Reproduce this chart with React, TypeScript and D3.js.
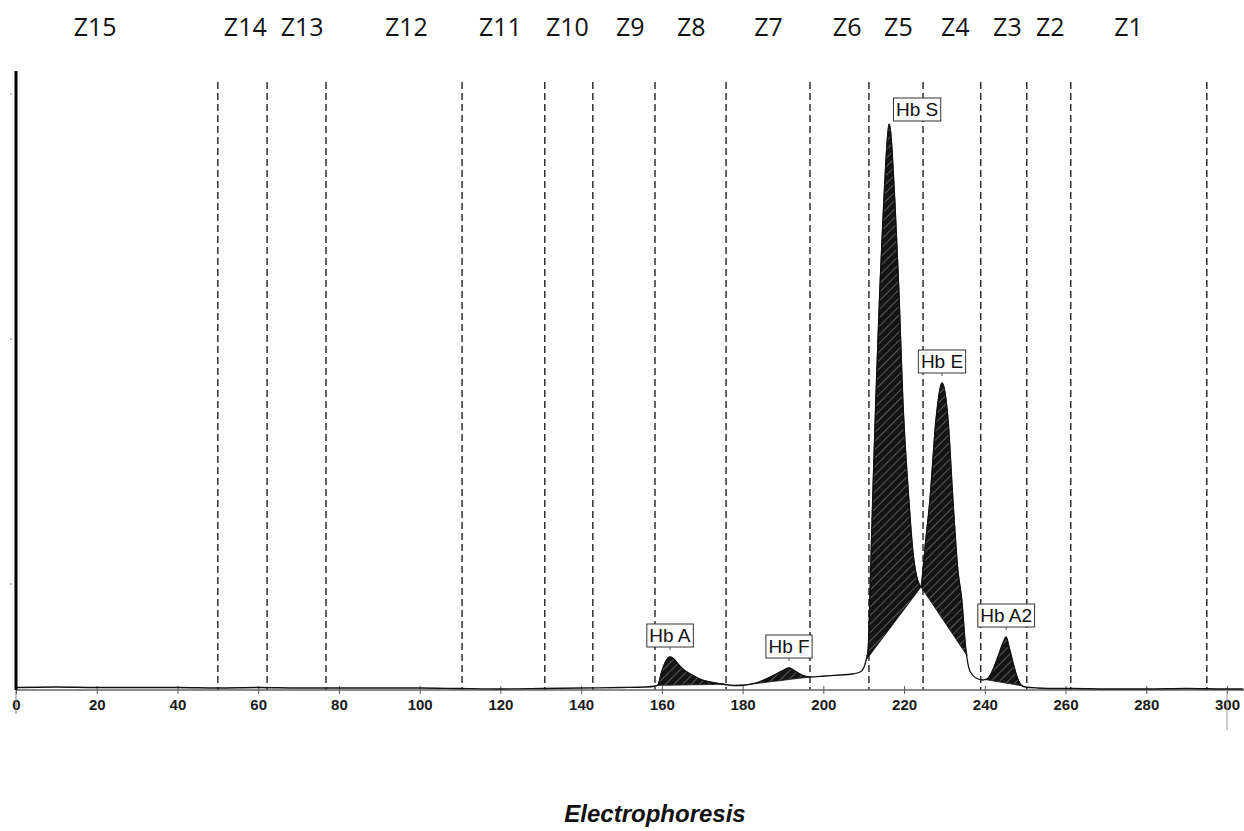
import React, { useEffect, useRef } from 'react';
import * as d3 from 'd3';

const W = 1244;
const H = 831;

// densitometer trace: migration position and signal height
const traceX = [
  0, 10, 20, 30, 40, 50, 60, 70, 80, 90, 100, 110, 120, 130, 140, 150, 156, 158.5,
  159.0, 160.0, 161.0, 162.0, 163.0, 164.0, 165.5, 167.5, 169.4, 171.9, 174.9, 177.9, 180.8,
  183.3, 185.8, 188.3, 190.2, 191.5, 193.0, 194.7, 196.7, 200.4, 204.1, 207.1, 209.1, 210.1,
  210.6, 211.1, 211.5, 212.3, 213.0, 214.0, 215.0, 216.3, 217.7, 218.7, 219.7, 221.0, 222.4, 224.2,
  225.4, 226.4, 227.9, 229.4, 230.9, 232.1, 233.3, 234.3, 235.3, 236.3, 237.8, 239.5,
  240.5, 241.5, 242.5, 243.5, 244.5, 245.3, 246.0, 247.0, 248.0, 249.0, 250.0, 253, 258, 262, 270, 280, 290, 300, 304,
];
const traceY = [
  1.5, 2, 1.5, 1.5, 1.5, 1, 1.5, 1, 1, 1, 1, 0.5, 0, 0.5, 1, 1.5, 2, 3,
  4, 18, 28, 32, 30, 25, 19, 14, 10, 7, 5, 3.5, 4,
  6, 10, 15, 19, 21, 18, 14, 12, 13, 14, 15, 17, 22,
  29, 40, 89, 200, 289, 400, 489, 565, 489, 400, 289, 200, 130, 102,
  150, 189, 269, 306, 269, 189, 120, 89, 40, 18, 11, 9,
  10, 15, 24, 35, 46, 52, 42, 26, 12, 4, 2, 1, 0.5, 0.5, 0, 0, 0.5, 0, 0,
];

// integrated fractions
const peakNames = ['Hb A', 'Hb F', 'Hb S', 'Hb E', 'Hb A2'];
const peakStart = [158.8, 181.5, 210.6, 224.2, 240.0];
const peakEnd = [175.5, 196.7, 224.2, 235.6, 249.5];
const peakApex = [162.0, 191.5, 216.3, 229.4, 245.3];

// zone separators and zone names
const zoneBounds = [50.0, 62.2, 76.8, 110.5, 131.0, 142.9, 158.3, 175.9, 196.7, 211.3, 224.7, 239.0, 250.4, 261.3, 295.0];
const zoneNames = ['Z15', 'Z14', 'Z13', 'Z12', 'Z11', 'Z10', 'Z9', 'Z8', 'Z7', 'Z6', 'Z5', 'Z4', 'Z3', 'Z2', 'Z1'];
const zoneLabelAt = [19.6, 56.8, 70.9, 96.7, 120.0, 136.6, 152.2, 167.3, 186.4, 205.9, 218.6, 232.7, 245.6, 256.2, 275.6];

const xTicks = [0, 20, 40, 60, 80, 100, 120, 140, 160, 180, 200, 220, 240, 260, 280, 300];
const yTicks = [105, 350, 595];

const App: React.FC = () => {
  const svgRef = useRef<SVGSVGElement>(null);

  useEffect(() => {
    if (!svgRef.current) return;
    const svg = d3.select(svgRef.current);
    svg.selectAll('*').remove();

    const x = d3.scaleLinear().domain([0, 300]).range([16, 1227]);
    const y = d3.scaleLinear().domain([0, 600]).range([689, 89]);
    const axisY = 690;

    const pts = traceX.map((v, i) => ({ x: v, v: traceY[i] }));
    const bis = d3.bisector((d: any) => d.x).left;
    const valueAt = (xv: number) => {
      const i = Math.max(1, Math.min(pts.length - 1, bis(pts, xv)));
      const a = pts[i - 1];
      const b = pts[i];
      const t = (xv - a.x) / (b.x - a.x);
      return a.v + (b.v - a.v) * t;
    };

    const defs = svg.append('defs');
    const pat = defs.append('pattern')
      .attr('id', 'hatch')
      .attr('patternUnits', 'userSpaceOnUse')
      .attr('width', 6)
      .attr('height', 6)
      .attr('patternTransform', 'rotate(45)');
    pat.append('rect').attr('width', 6).attr('height', 6).attr('fill', '#141414');
    pat.append('line')
      .attr('x1', 0).attr('y1', 0).attr('x2', 0).attr('y2', 6)
      .attr('stroke', '#8a8a8a').attr('stroke-width', 1.2);

    svg.append('rect').attr('width', W).attr('height', H).attr('fill', '#fff');

    // zone names
    svg.append('g')
      .selectAll('text')
      .data(zoneNames)
      .enter()
      .append('text')
      .attr('x', (_d, i) => x(zoneLabelAt[i]))
      .attr('y', 36)
      .attr('text-anchor', 'middle')
      .style('font-family', '"Open Sans", "Noto Sans", sans-serif')
      .style('font-size', '25px')
      .style('fill', '#111')
      .text(d => d);

    // dashed zone separators
    svg.append('g')
      .selectAll('line')
      .data(zoneBounds)
      .enter()
      .append('line')
      .attr('x1', d => x(d))
      .attr('x2', d => x(d))
      .attr('y1', 82)
      .attr('y2', axisY)
      .attr('stroke', '#111')
      .attr('stroke-width', 1.3)
      .attr('stroke-dasharray', '7,4');

    // peak fills between the trace and the straight integration baseline
    const curve = d3.curveMonotoneX;
    peakNames.forEach((_name, i) => {
      const s = peakStart[i];
      const e = peakEnd[i];
      const vs = valueAt(s);
      const ve = valueAt(e);
      const seg = [{ x: s, v: vs }, ...pts.filter(p => p.x > s && p.x < e), { x: e, v: ve }];
      const base = (xv: number) => vs + (ve - vs) * (xv - s) / (e - s);
      const area = d3.area<any>()
        .x(d => x(d.x))
        .y0(d => y(base(d.x)))
        .y1(d => y(d.v))
        .curve(curve);
      svg.append('path')
        .attr('d', area(seg) as string)
        .attr('fill', 'url(#hatch)')
        .attr('stroke', '#111')
        .attr('stroke-width', 0.8);
    });

    // x axis
    const xAxis = d3.axisBottom(x).tickValues(xTicks).tickSize(4).tickPadding(5).tickFormat(d3.format('d'));
    const gx = svg.append('g').attr('transform', `translate(0,${axisY})`).call(xAxis);
    gx.select('.domain').remove();
    gx.selectAll('.tick line').attr('y1', -4).attr('stroke', '#555');
    gx.selectAll('.tick text')
      .style('font-family', '"Liberation Sans", Arial, sans-serif')
      .style('font-size', '15px')
      .style('font-weight', 'bold')
      .style('fill', '#1a1a1a');
    svg.append('line')
      .attr('x1', x(0)).attr('x2', W)
      .attr('y1', axisY).attr('y2', axisY)
      .attr('stroke', '#666').attr('stroke-width', 1.6);
    svg.append('line')
      .attr('x1', x(0)).attr('x2', x(0))
      .attr('y1', axisY).attr('y2', axisY + 24)
      .attr('stroke', '#777').attr('stroke-width', 1);
    svg.append('line')
      .attr('x1', x(300)).attr('x2', x(300))
      .attr('y1', axisY).attr('y2', axisY + 40)
      .attr('stroke', '#999').attr('stroke-width', 1);

    // trace
    const line = d3.line<any>().x(d => x(d.x)).y(d => y(d.v)).curve(curve);
    svg.append('path')
      .attr('d', line(pts) as string)
      .attr('fill', 'none')
      .attr('stroke', '#111')
      .attr('stroke-width', 1.3);

    // y axis
    svg.append('line')
      .attr('x1', 16).attr('x2', 16)
      .attr('y1', 71).attr('y2', axisY)
      .attr('stroke', '#000').attr('stroke-width', 3);
    svg.append('g')
      .selectAll('line')
      .data(yTicks)
      .enter()
      .append('line')
      .attr('x1', 10).attr('x2', 12)
      .attr('y1', d => y(d)).attr('y2', d => y(d))
      .attr('stroke', '#aaa').attr('stroke-width', 1.5);

    // peak labels
    const labelShift: Record<string, [number, number]> = { 'Hb S': [28, 3] };
    const lg = svg.append('g');
    peakNames.forEach((name, i) => {
      const px = x(peakApex[i]);
      const py = y(valueAt(peakApex[i]));
      const [dx, gap] = labelShift[name] || [0, 10];
      const g = lg.append('g');
      const t = g.append('text')
        .attr('x', px + dx)
        .attr('y', py - gap - 5)
        .attr('text-anchor', 'middle')
        .style('font-family', '"Liberation Sans", Arial, sans-serif')
        .style('font-size', '19px')
        .style('fill', '#111')
        .text(name);
      const bb = (t.node() as SVGTextElement).getBBox();
      g.insert('rect', 'text')
        .attr('x', bb.x - 2.5)
        .attr('y', py - gap - 23)
        .attr('width', bb.width + 5)
        .attr('height', 23)
        .attr('fill', '#fff')
        .attr('stroke', '#333')
        .attr('stroke-width', 1);
      if (!labelShift[name]) {
        g.append('line')
          .attr('x1', px).attr('x2', px)
          .attr('y1', py - gap).attr('y2', py - gap + 3)
          .attr('stroke', '#555');
      }
    });

    // title
    svg.append('text')
      .attr('x', 655)
      .attr('y', 822)
      .attr('text-anchor', 'middle')
      .style('font-family', '"Liberation Sans", Arial, sans-serif')
      .style('font-size', '24px')
      .style('font-weight', 'bold')
      .style('font-style', 'italic')
      .style('fill', '#111')
      .text('Electrophoresis');
  }, []);

  return (
    <svg
      ref={svgRef}
      width={W}
      height={H}
      style={{ position: 'absolute', left: 0, top: 0, background: '#fff' }}
    />
  );
};

export default App;
